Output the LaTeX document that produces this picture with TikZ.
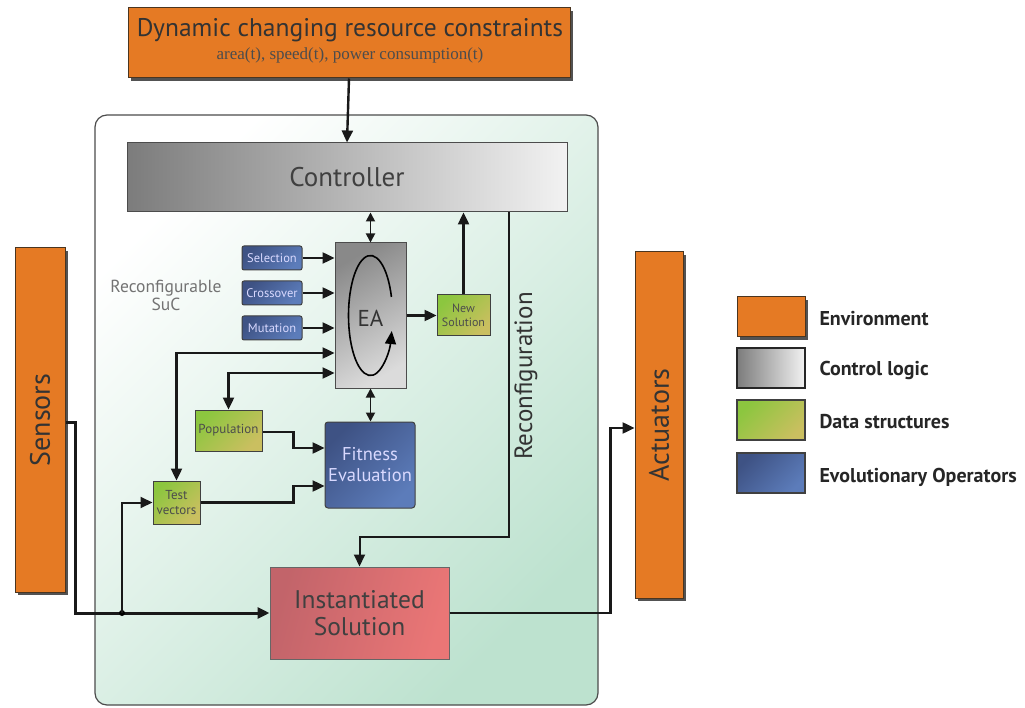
\documentclass[tikz,border=0pt]{standalone}
\usepackage{fontspec}
\setmainfont{PT Sans}
\newfontfamily\subserif{Liberation Serif}
\usetikzlibrary{arrows.meta,shadows,calc}
\definecolor{envor}{HTML}{E57A24}
\definecolor{envdk}{HTML}{4A3520}
\definecolor{mint}{HTML}{BDE2CF}
\definecolor{gdark}{HTML}{7C7C7C}
\definecolor{glight}{HTML}{F2F2F2}
\definecolor{grA}{HTML}{8CC63F}
\definecolor{grB}{HTML}{CABF60}
\definecolor{blA}{HTML}{3E5284}
\definecolor{blB}{HTML}{5C7CBA}
\definecolor{rdA}{HTML}{C2646A}
\definecolor{rdB}{HTML}{EA7676}
\tikzset{
  envbox/.style={draw=envdk, line width=1pt, fill=envor, inner sep=0pt,
    drop shadow={shadow xshift=3pt, shadow yshift=-3pt, fill=black!75, opacity=0.9}},
  ctlbox/.style={draw=black!70, line width=1pt, left color=gdark, right color=glight, inner sep=0pt},
  databox/.style={draw=black!75, line width=1pt, top color=grA, bottom color=grB, shading angle=45, inner sep=0pt, font=\fontsize{12.5}{13}\selectfont, text=black!70, align=center},
  opbox/.style={draw=black!75, line width=1pt, rounded corners=2pt, top color=blA, bottom color=blB, shading angle=45, inner sep=0pt, text=white!85!blue, font=\fontsize{12.5}{13}\selectfont, align=center},
  conn/.style={line width=2.4pt, draw=black!90, -{Triangle[length=12pt,width=11pt]}},
  dconn/.style={line width=2.4pt, draw=black!90, {Triangle[length=12pt,width=11pt]}-{Triangle[length=12pt,width=11pt]}},
  legtext/.style={anchor=west, font=\bfseries\fontsize{20}{22}\selectfont, text=black!85}
}
\begin{document}
\begin{tikzpicture}[x=1pt,y=-1pt]
\useasboundingbox (0,0) rectangle (1025,708);
\fill[white] (0,0) rectangle (1025,708);

% container
\node[draw=black!70, line width=1.2pt, rounded corners=12pt, top color=white, bottom color=mint, shading angle=45, minimum width=503, minimum height=590] (suc) at (346.5,410) {};

% top constraints box
\node[envbox, minimum width=442, minimum height=70] (top) at (349,43) {};
\node[font=\fontsize{25.5}{28}\selectfont, text=black!80] (ttl) at (350,30) {Dynamic changing resource constraints};
\node[font=\subserif\fontsize{17}{18}\selectfont, text=black!70] (sub) at (350,55) {area(t), speed(t), power consumption(t)};

% controller
\node[ctlbox, minimum width=440, minimum height=69, font=\fontsize{27}{30}\selectfont, text=black!75] (ctrl) at (347,177.5) {Controller};

% EA
\node[draw=black!70, line width=1pt, top color=gdark!90, bottom color=glight!80!gray, shading angle=30, minimum width=71, minimum height=145, inner sep=0pt] (ea) at (370.5,315.5) {};
\node[font=\fontsize{23}{26}\selectfont, text=black!80] (eatxt) at (370.5,318) {EA};
\draw[line width=1.6pt, -{Triangle[length=13pt,width=11pt]}] ($(ea.center)+({22*cos(-18)},{60*sin(-18)})$) arc[start angle=-18, end angle=-345, x radius=22, y radius=60];

% operators
\node[opbox, minimum width=60, minimum height=24] (sel) at (272,258) {Selection};
\node[opbox, minimum width=60, minimum height=24] (cro) at (272,293) {Crossover};
\node[opbox, minimum width=60, minimum height=24] (mut) at (272,328) {Mutation};

% new solution
\node[databox, minimum width=53, minimum height=41, font=\fontsize{12}{14}\selectfont] (nsol) at (463.5,315.5) {New\\Solution};

% reconfigurable label
\node[font=\fontsize{17.5}{18}\selectfont, text=black!55, align=center] (rlab) at (166,295) {Reconfigurable\\SuC};

% population, fitness, test vectors
\node[databox, minimum width=67, minimum height=41, font=\fontsize{13}{14}\selectfont] (pop) at (228.5,430.5) {Population};
\node[opbox, rounded corners=3pt, minimum width=90, minimum height=86, font=\fontsize{18.5}{21}\selectfont, text=white!85!blue] (fit) at (370,465) {Fitness\\Evaluation};
\node[databox, minimum width=47, minimum height=43, font=\fontsize{13}{15}\selectfont] (tv) at (176.5,502.5) {Test\\vectors};

% sensors, actuators
\node[envbox, minimum width=50, minimum height=344] (sens) at (40,420) {};
\node[rotate=90, font=\fontsize{28}{30}\selectfont, text=black!80] (senstxt) at (sens.center) {Sensors};
\node[envbox, minimum width=48, minimum height=346] (act) at (659,425) {};
\node[rotate=90, font=\fontsize{28}{30}\selectfont, text=black!80] (acttxt) at (act.center) {Actuators};

% instantiated solution
\node[draw=black!60, line width=1pt, left color=rdA, right color=rdB, shading angle=75, minimum width=179, minimum height=92, inner sep=0pt, align=center, font=\fontsize{25.5}{27}\selectfont, text=black!75] (inst) at (359.5,613) {Instantiated\\Solution};

% connectors
\draw[conn] (top.south) -- (ctrl.north);
\draw[dconn, line width=1.8pt, {Triangle[length=9pt,width=9pt]}-{Triangle[length=9pt,width=9pt]}] (ea.north) -- (ea.north |- ctrl.south);
\draw[dconn, line width=1.8pt, {Triangle[length=9pt,width=9pt]}-{Triangle[length=9pt,width=9pt]}] (ea.south) -- (ea.south |- fit.north);
\draw[conn] (sel.east) -- (sel.east -| ea.west);
\draw[conn] (cro.east) -- (cro.east -| ea.west);
\draw[conn] (mut.east) -- (mut.east -| ea.west);
\draw[conn] (ea.east) -- (nsol.west);
\draw[conn] (nsol.north) -- (nsol.north |- ctrl.south);
\draw[dconn] (tv.north) |- ($(ea.west)+(0,37.5)$);
\draw[dconn] (pop.north) |- ($(ea.west)+(0,57.5)$);
\draw[conn] ($(pop.east)+(0,1.5)$) -- ++(31,0) |- ($(fit.west)+(0,-17)$);
\draw[conn] (tv.east) -- ++(93,0) |- ($(fit.west)+(0,21)$);

\coordinate (j) at (122,613);
\draw[conn, line width=3pt] ($(sens.east)+(0,2)$) -- ++(10,0) |- (inst.west);
\fill (j) circle (3);
\draw[conn, line width=2pt] (j) |- (tv.west);

\coordinate (rc) at (509,537);
\draw[conn, line width=2pt] (rc |- ctrl.south) -- (rc) -| (inst.north);
\node[rotate=90, font=\fontsize{25}{27}\selectfont, text=black!80] (rtxt) at (526,376) {Reconfiguration};

\draw[conn, line width=2.4pt] (inst.east) -- ++(161,0) |- ($(act.west)+(0,3)$);

% legend
\node[envbox, minimum width=68, minimum height=40] (l1) at (771,317) {};
\node[ctlbox, minimum width=68, minimum height=40, draw=black!85, line width=1.5pt] (l2) at (771,368) {};
\node[databox, minimum width=68, minimum height=40, line width=1.5pt] (l3) at (771,420) {};
\node[opbox, rounded corners=0pt, minimum width=68, minimum height=40, line width=1.5pt] (l4) at (771,473) {};
\node[legtext] (t1) at (816,319) {Environment};
\node[legtext] (t2) at (816,370) {Control logic};
\node[legtext] (t3) at (816,422) {Data structures};
\node[legtext] (t4) at (816,477) {Evolutionary Operators};
\end{tikzpicture}
\end{document}
